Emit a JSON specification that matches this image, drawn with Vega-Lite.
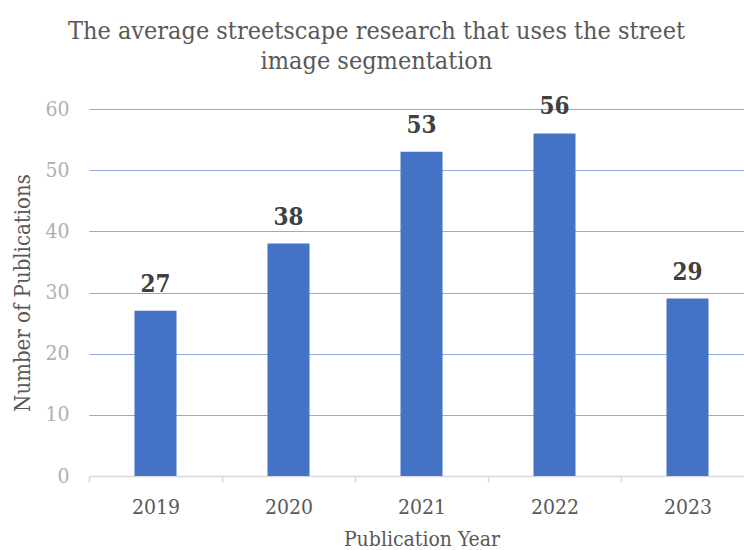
{
  "$schema": "https://vega.github.io/schema/vega-lite/v6.json",
  "width": 665,
  "height": 367,
  "autosize": "none",
  "padding": {"left": 89, "top": 109, "right": 0, "bottom": 74},
  "background": "white",
  "title": {
    "text": ["The average streetscape research that uses the street", "image segmentation"],
    "font": "DejaVu Serif Condensed",
    "fontSize": 25,
    "fontWeight": "normal",
    "color": "#595959",
    "lineHeight": 30,
    "anchor": "middle",
    "dx": -45,
    "offset": 21
  },
  "data": {
    "values": [
      {"year": "2019", "count": 27},
      {"year": "2020", "count": 38},
      {"year": "2021", "count": 53},
      {"year": "2022", "count": 56},
      {"year": "2023", "count": 29}
    ]
  },
  "config": {
    "view": {"stroke": null},
    "font": "DejaVu Serif Condensed"
  },
  "encoding": {
    "x": {
      "field": "year",
      "type": "ordinal",
      "scale": {"paddingInner": 0, "paddingOuter": 0},
      "axis": {
        "title": "Publication Year",
        "titleFont": "DejaVu Serif Condensed",
        "titleFontSize": 21,
        "titleFontWeight": "normal",
        "titleColor": "#595959",
        "titlePadding": 11,
        "labelAngle": 0,
        "labelFont": "DejaVu Serif Condensed",
        "labelFontSize": 21,
        "labelColor": "#595959",
        "labelPadding": 14,
        "domainColor": "#d9d9d9",
        "domainWidth": 1.5,
        "tickColor": "#d9d9d9",
        "tickWidth": 1.5,
        "tickSize": 6,
        "tickBand": "extent",
        "grid": false
      }
    },
    "y": {
      "field": "count",
      "type": "quantitative",
      "scale": {"domain": [0, 60], "nice": false},
      "axis": {
        "title": "Number of Publications",
        "titleFont": "DejaVu Serif Condensed",
        "titleFontSize": 22,
        "titleFontWeight": "normal",
        "titleColor": "#595959",
        "titlePadding": 10,
        "values": [0, 10, 20, 30, 40, 50, 60],
        "labelFont": "DejaVu Serif Condensed",
        "labelFontSize": 21,
        "labelColor": "#b0b0b0",
        "labelPadding": 20,
        "domain": false,
        "ticks": false,
        "grid": true,
        "gridColor": "#8faadc",
        "gridWidth": 1.2
      }
    }
  },
  "layer": [
    {"mark": {"type": "bar", "color": "#4472c4", "size": 42}},
    {
      "mark": {
        "type": "text",
        "baseline": "bottom",
        "dy": -14,
        "font": "DejaVu Serif Condensed",
        "fontSize": 24,
        "fontWeight": "bold",
        "color": "#404040"
      },
      "encoding": {"text": {"field": "count", "type": "quantitative"}}
    }
  ]
}
